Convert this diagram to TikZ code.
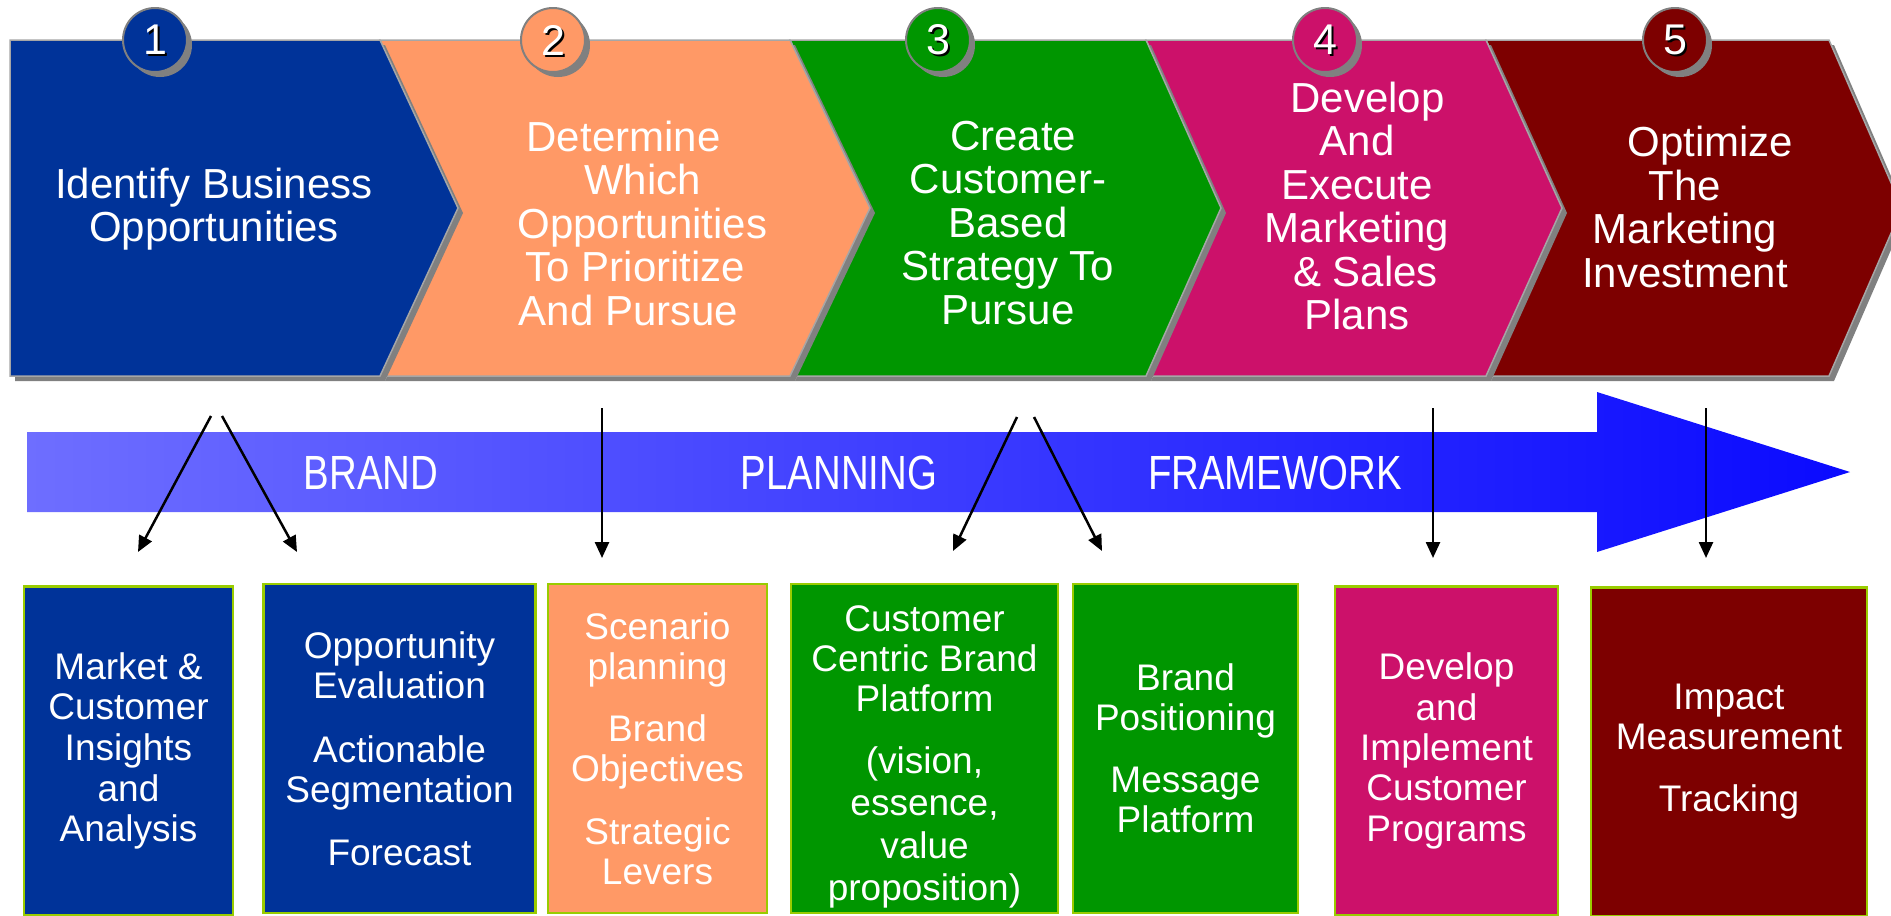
\documentclass[tikz,border=0pt]{standalone}
\usepackage{fontspec}
\setmainfont{Liberation Sans}
\usepackage{graphicx}
\usetikzlibrary{arrows.meta}
\definecolor{cblue}{RGB}{0,51,153}
\definecolor{corange}{RGB}{255,153,102}
\definecolor{cgreen}{RGB}{0,150,0}
\definecolor{cpink}{RGB}{204,17,106}
\definecolor{cmaroon}{RGB}{125,0,0}
\definecolor{cborder}{RGB}{153,204,0}
\definecolor{cshadow}{RGB}{128,128,128}
\definecolor{arrowL}{RGB}{110,110,255}
\definecolor{arrowR}{RGB}{10,10,255}
\tikzset{
 chev/.style={draw=cshadow!70, line width=1.5pt},
 chevshadow/.style={fill=cshadow, shift={(5,5)}},
 chevtext/.style={text=white, align=center, font=\fontsize{42}{43.5}\selectfont, inner sep=0pt},
 numcircle/.style={circle, minimum size=64pt, inner sep=0pt, draw=cshadow, line width=2pt},
 numshadow/.style={circle, minimum size=64pt, inner sep=0pt, fill=cshadow},
 numtext/.style={text=white, font=\fontsize{43}{43}\selectfont, inner sep=0pt},
 numtextsh/.style={text=black, font=\fontsize{43}{43}\selectfont, inner sep=0pt},
 outbox/.style={draw=cborder, line width=2.5pt, minimum height=329pt, inner sep=0pt, text=white, align=center, font=\fontsize{37}{40}\selectfont},
 bandlabel/.style={text=white, inner sep=0pt, font=\fontsize{48}{48}\selectfont},
 conn/.style={line width=2.5pt, -{Triangle[length=16pt,width=14pt]}},
}
\begin{document}
\begin{tikzpicture}[x=1pt,y=-1pt]
\useasboundingbox (0,0) rectangle (1891,916);
\clip (0,0) rectangle (1891,916);

% chevrons (drawn right to left so each shadow falls on the next)
\fill[chevshadow] (1486,40) -- (1829,40) -- (1902,208) -- (1829,376) -- (1486,376) -- (1562,208) -- cycle;
\filldraw[chev, fill=cmaroon] (1486,40) -- (1829,40) -- (1902,208) -- (1829,376) -- (1486,376) -- (1562,208) -- cycle;
\fill[chevshadow] (1146,40) -- (1486,40) -- (1562,208) -- (1486,376) -- (1146,376) -- (1221,208) -- cycle;
\filldraw[chev, fill=cpink] (1146,40) -- (1486,40) -- (1562,208) -- (1486,376) -- (1146,376) -- (1221,208) -- cycle;
\fill[chevshadow] (790,40) -- (1146,40) -- (1221,208) -- (1146,376) -- (790,376) -- (870,208) -- cycle;
\filldraw[chev, fill=cgreen] (790,40) -- (1146,40) -- (1221,208) -- (1146,376) -- (790,376) -- (870,208) -- cycle;
\fill[chevshadow] (380,40) -- (790,40) -- (870,208) -- (790,376) -- (380,376) -- (458,208) -- cycle;
\filldraw[chev, fill=corange] (380,40) -- (790,40) -- (870,208) -- (790,376) -- (380,376) -- (458,208) -- cycle;
\fill[chevshadow] (10,40) -- (380,40) -- (458,208) -- (380,376) -- (10,376) -- cycle;
\filldraw[chev, fill=cblue] (10,40) -- (380,40) -- (458,208) -- (380,376) -- (10,376) -- cycle;

% chevron texts
\node[chevtext] (c1) at (214,209) {Identify Business\\Opportunities};
\node[chevtext] (c2) at (635.5,223) {Determine\hspace*{0.57em}\\\hspace*{0.33em}Which\\\hspace*{0.33em}Opportunities\\To Prioritize\\And Pursue\hspace*{0.33em}};
\node[chevtext] (c3) at (1008,223) {\hspace*{0.25em}Create\\Customer-\\Based\\Strategy To\\Pursue};
\node[chevtext] (c4) at (1357,206) {\hspace*{0.5em}Develop\\And\\Execute\\Marketing\\\hspace*{0.4em}\& Sales\\Plans};
\node[chevtext] (c5) at (1685,207) {\hspace*{1.2em}Optimize\\The\\Marketing\\Investment};

% numbered circles
\foreach \x/\n/\c in {155/1/cblue, 553/2/corange, 938/3/cgreen, 1325/4/cpink, 1675/5/cmaroon}{
  \node[numshadow] at (\x+5,45) {};
  \node[numcircle, fill=\c] (n\n) at (\x,40) {};
  \node[numtextsh] at (\x+2,42) {\n};
  \node[numtext] at (\x,40) {\n};
}

% big band arrow
\shade[left color=arrowL, right color=arrowR] (27,432) -- (1597,432) -- (1597,392) -- (1850,472) -- (1597,552) -- (1597,512) -- (27,512) -- cycle;
\node[bandlabel] (lb1) at (371,473) {\scalebox{0.8}[1]{BRAND}};
\node[bandlabel] (lb2) at (839,473) {\scalebox{0.8}[1]{PLANNING}};
\node[bandlabel] (lb3) at (1275,473) {\scalebox{0.8}[1]{FRAMEWORK}};

% boxes
\node[outbox, fill=cblue, minimum width=209pt] (b1) at (128.5,751) {Market \&\\[0.7pt]Customer\\[0.7pt]Insights\\[0.7pt]and\\[0.7pt]Analysis};
\node[outbox, fill=cblue, minimum width=272pt] (b2) at (399.5,748.5) {Opportunity\\Evaluation\\[24pt]Actionable\\Segmentation\\[23pt]Forecast};
\node[outbox, fill=corange, minimum width=219pt] (b3) at (657.5,748.5) {Scenario\\planning\\[22pt]Brand\\Objectives\\[23pt]Strategic\\Levers};
\node[outbox, fill=cgreen, minimum width=267pt] (b4) at (924.5,748.5) {};
\node[text=white, align=center, font=\fontsize{37}{40}\selectfont, inner sep=0pt] (b4t) at (924.5,757) {Customer\\Centric Brand\\Platform\\[22pt](vision,\\[2.5pt]essence,\\[2.5pt]value\\[2.5pt]proposition)};
\node[outbox, fill=cgreen, minimum width=225pt] (b5) at (1185.5,748.5) {Brand\\Positioning\\[22pt]Message\\Platform};
\node[outbox, fill=cpink, minimum width=223pt] (b6) at (1446.5,751) {Develop\\[0.3pt]and\\[0.3pt]Implement\\[0.3pt]Customer\\[0.3pt]Programs};
\node[outbox, fill=cmaroon, minimum width=276pt] (b7) at (1729,752) {Impact\\Measurement\\[22pt]Tracking};

% connectors
\coordinate (a1s) at (211,416); \coordinate (a1e) at (138,552);
\coordinate (a2s) at (222,416); \coordinate (a2e) at (297,552);
\coordinate (a3s) at (602,408); \coordinate (a3e) at (602,558);
\coordinate (a4s) at (1017,417); \coordinate (a4e) at (953,551);
\coordinate (a5s) at (1034,417); \coordinate (a5e) at (1102,551);
\coordinate (a6s) at (1433,408); \coordinate (a6e) at (1433,558);
\coordinate (a7s) at (1706,408); \coordinate (a7e) at (1706,558);
\draw[conn] (a1s) -- (a1e);
\draw[conn] (a2s) -- (a2e);
\draw[conn] (a3s) -- (a3e);
\draw[conn] (a4s) -- (a4e);
\draw[conn] (a5s) -- (a5e);
\draw[conn] (a6s) -- (a6e);
\draw[conn] (a7s) -- (a7e);
\end{tikzpicture}
\end{document}
